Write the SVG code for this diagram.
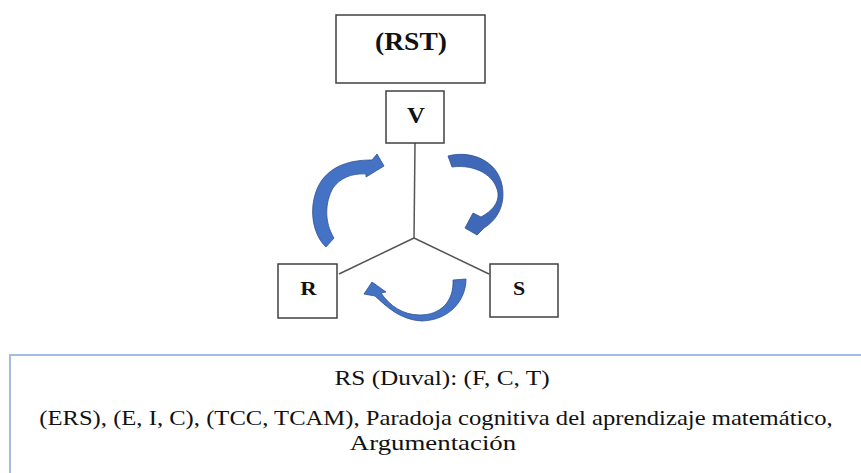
<svg xmlns="http://www.w3.org/2000/svg" width="861" height="473" viewBox="0 0 861 473">
<style>
.box{fill:#fff;stroke:#404040;stroke-width:1.5}
.lbl{font-family:"Liberation Serif","Times New Roman",serif;font-weight:bold;fill:#111;text-anchor:middle}
.txt{font-family:"Liberation Serif","Times New Roman",serif;font-size:22px;fill:#111;text-anchor:middle}
.ln{stroke:#555;stroke-width:1.5;fill:none}
.arr{fill:#4472C4;stroke:#2F528F;stroke-width:0.8;stroke-linejoin:round}
</style>
<rect width="861" height="473" fill="#fff"/>
<g id="connectors">
<line class="ln" x1="415" y1="143" x2="414" y2="238"/>
<line class="ln" x1="414" y1="238" x2="339" y2="274"/>
<line class="ln" x1="414" y1="238" x2="489" y2="274"/>
<path class="arr" d="M 326,247 C 310,232 308,200 322,180 C 335,163 355,160 372,160 L 377,154 L 384,166 L 366,177 L 366,174 C 352,173 340,178 333,188 C 325,202 324,222 334,238 Z"/>
<path class="arr" style="fill:#3F69B8" d="M 448,156 C 470,150 497,160 502,185 C 506,205 497,220 484,228 L 477,235 L 465,228 L 473,213 L 481,217 C 492,211 499,203 498,193 C 495,175 475,164 452,167 Z"/>
<path class="arr" d="M 466,279 C 466,300 450,320 422,321 C 400,320 386,306 375,296 L 364,294 L 372,282 L 386,292 L 381,293 C 390,306 403,315 420,315 C 440,315 454,302 453,280 Z"/>
</g>
<g id="node-rst">
<rect class="box" x="336" y="15" width="149" height="68"/>
<text class="lbl" font-size="25" transform="translate(411,50) scale(1.1,1)">(RST)</text>
</g>
<g id="node-v">
<rect class="box" x="386" y="91" width="58" height="52"/>
<text class="lbl" font-size="23" transform="translate(416,123) scale(1.08,1)">V</text>
</g>
<g id="node-r">
<rect class="box" x="278" y="264" width="59" height="54"/>
<text class="lbl" font-size="19" transform="translate(308.5,295) scale(1.2,1)">R</text>
</g>
<g id="node-s">
<rect class="box" x="490" y="264" width="68" height="53"/>
<text class="lbl" font-size="19" transform="translate(519,295) scale(1.15,1)">S</text>
</g>
<g id="node-rs">
<rect x="10" y="355" width="870" height="140" fill="#fff" stroke="#A3BBE0" stroke-width="2"/>
<text class="txt" transform="translate(442,385) scale(1.15,1)">RS (Duval): (F, C, T)</text>
<text class="txt" transform="translate(436,425) scale(1.12,1)">(ERS), (E, I, C), (TCC, TCAM), Paradoja cognitiva del aprendizaje matemático,</text>
<text class="txt" transform="translate(433,450) scale(1.22,1)">Argumentación</text>
</g>
</svg>
